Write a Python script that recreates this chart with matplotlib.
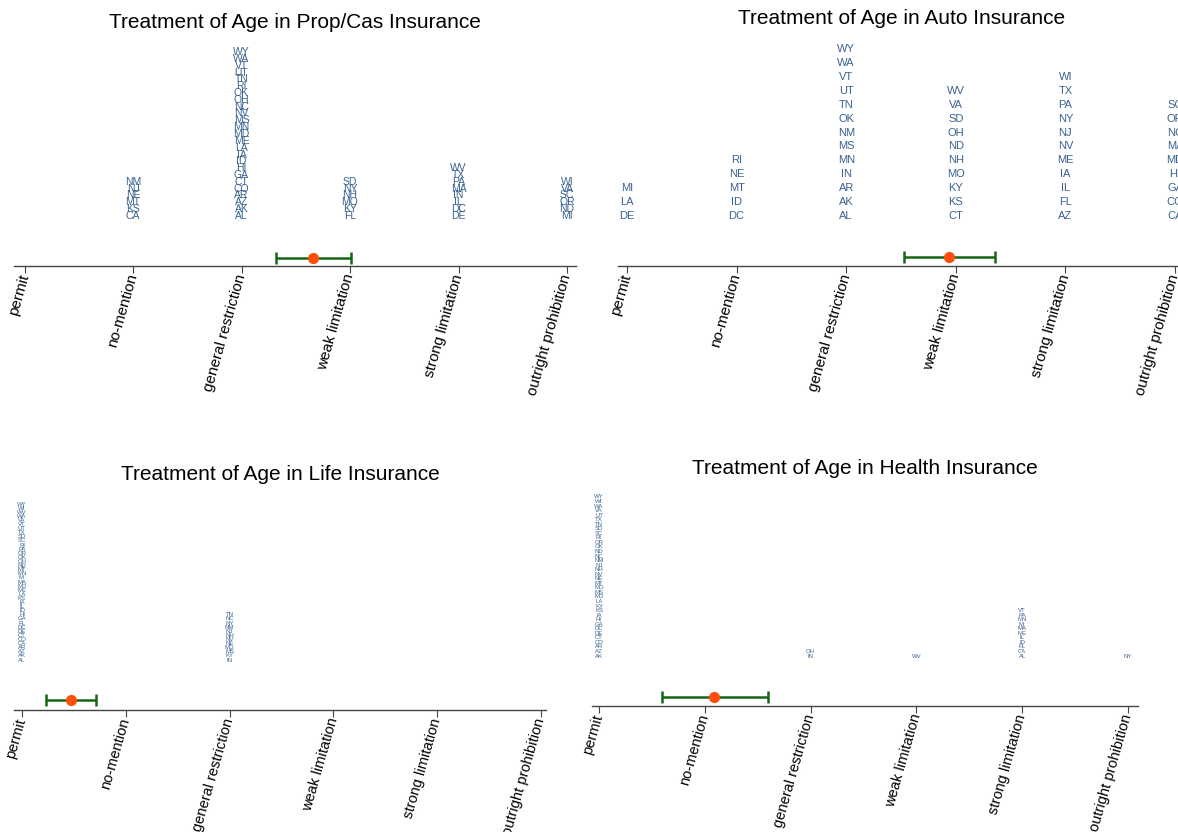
import matplotlib.pyplot as plt
import matplotlib.transforms as mtransforms

plt.rcParams['font.family'] = ['Liberation Sans', 'DejaVu Sans']

levels = ['permit', 'no-mention', 'general restriction', 'weak limitation',
          'strong limitation', 'outright prohibition']

# states in order of full name (bottom-up order within each column)
states = ['AL', 'AK', 'AZ', 'AR', 'CA', 'CO', 'CT', 'DE', 'DC', 'FL', 'GA', 'HI',
          'ID', 'IL', 'IN', 'IA', 'KS', 'KY', 'LA', 'ME', 'MD', 'MA', 'MI', 'MN',
          'MS', 'MO', 'MT', 'NE', 'NV', 'NH', 'NJ', 'NM', 'NY', 'NC', 'ND', 'OH',
          'OK', 'OR', 'PA', 'RI', 'SC', 'SD', 'TN', 'TX', 'UT', 'VT', 'VA', 'WA',
          'WV', 'WI', 'WY']

propcas_cols = [
    [],
    ['CA', 'KS', 'MT', 'NE', 'NJ', 'NM'],
    ['AL', 'AK', 'AZ', 'AR', 'CO', 'CT', 'GA', 'HI', 'ID', 'IA', 'LA', 'ME', 'MD',
     'MN', 'MS', 'NV', 'NC', 'OH', 'OK', 'RI', 'TN', 'UT', 'VT', 'WA', 'WY'],
    ['FL', 'KY', 'MO', 'NH', 'NY', 'SD'],
    ['DE', 'DC', 'IL', 'IN', 'MA', 'PA', 'TX', 'WV'],
    ['MI', 'ND', 'OR', 'SC', 'VA', 'WI'],
]
auto_cols = [
    ['DE', 'LA', 'MI'],
    ['DC', 'ID', 'MT', 'NE', 'RI'],
    ['AL', 'AK', 'AR', 'IN', 'MN', 'MS', 'NM', 'OK', 'TN', 'UT', 'VT', 'WA', 'WY'],
    ['CT', 'KS', 'KY', 'MO', 'NH', 'ND', 'OH', 'SD', 'VA', 'WV'],
    ['AZ', 'FL', 'IL', 'IA', 'ME', 'NV', 'NJ', 'NY', 'PA', 'TX', 'WI'],
    ['CA', 'CO', 'GA', 'HI', 'MD', 'MA', 'NC', 'OR', 'SC'],
]
life_general = ['IN', 'KY', 'MS', 'MO', 'NE', 'NV', 'NH', 'NJ', 'NM', 'NY', 'NC', 'TN']
life_cols = [[s for s in states if s not in life_general], [], life_general, [], [], []]

health_other = [
    [],
    ['IN', 'OH'],
    ['WV'],
    ['AL', 'CA', 'FL', 'ID', 'IL', 'ME', 'MA', 'MI', 'MN', 'PA', 'VT'],
    ['NY'],
]
health_taken = [s for c in health_other for s in c]
health_cols = [[s for s in states if s not in health_taken]] + health_other

# mean and 95% interval (low, mean, high)
propcas_ci = (2.32, 2.66, 3.01)
auto_ci = (2.53, 2.94, 3.36)
life_ci = (0.23, 0.47, 0.71)
health_ci = (0.60, 1.09, 1.60)

W, H = 1178, 832
fig = plt.figure(figsize=(W / 100, H / 100), dpi=100)

panels = [
    # title, cols, ci, axis_y, left, right, tick0, step, top, label fs, tick fs, ebar y, title y
    ('Treatment of Age in Prop/Cas Insurance', propcas_cols, propcas_ci,
     266, 14, 576, 24.5, 108.5, 214, 7.5, 11, 8, 244),
    ('Treatment of Age in Auto Insurance', auto_cols, auto_ci,
     266, 618, 1186, 627, 109.6, 217, 8, 11, 9, 247),
    ('Treatment of Age in Life Insurance', life_cols, life_ci,
     710, 14, 546, 22, 103.8, 206, 4.3, 10.5, 10, 235),
    ('Treatment of Age in Health Insurance', health_cols, health_ci,
     706, 592, 1138, 599, 105.8, 209, 4.3, 10.5, 9, 238),
]

text_col = '#3a6290'
axis_col = '#444444'

for (title, cols, ci, axy, left, right, t0, step, top, lfs, tfs, ey, ty) in panels:
    hpx = 260
    ax = fig.add_axes([left / W, 1 - axy / H, (right - left) / W, hpx / H])
    ax.patch.set_alpha(0)
    ax.set_xlim((left - t0) / step, (right - t0) / step)
    ax.set_ylim(0, hpx)
    for s in ['left', 'top', 'right']:
        ax.spines[s].set_visible(False)
    ax.spines['bottom'].set_color(axis_col)
    ax.spines['bottom'].set_linewidth(1.0)
    ax.set_yticks([])
    ax.set_xticks(range(len(levels)))
    ax.set_xticklabels(levels, rotation=74, ha='right', va='center',
                       rotation_mode='anchor', fontsize=tfs)
    ax.tick_params(axis='x', length=5, color=axis_col, pad=1)

    base = 50
    maxn = max(len(c) for c in cols)
    dy = (top - base) / (maxn - 1)
    for k, col in enumerate(cols):
        for i, st in enumerate(col):
            ax.text(k, base + i * dy, st, ha='center', va='center',
                    fontsize=lfs, color=text_col, clip_on=False)

    lo, mean, hi = ci
    ax.errorbar([mean], [ey], xerr=[[mean - lo], [hi - mean]], fmt='none',
                ecolor='#176617', elinewidth=1.8, capsize=4, capthick=1.8,
                clip_on=False, zorder=3)
    ax.plot([mean], [ey], 'o', color='#ff4d0a', markersize=7, zorder=4,
            clip_on=False)

    tr = mtransforms.blended_transform_factory(ax.transAxes, ax.transData)
    ax.text(0.5, ty, title, transform=tr, ha='center', va='center',
            fontsize=15, color='black', clip_on=False)

fig.savefig('out.png', dpi=100)
